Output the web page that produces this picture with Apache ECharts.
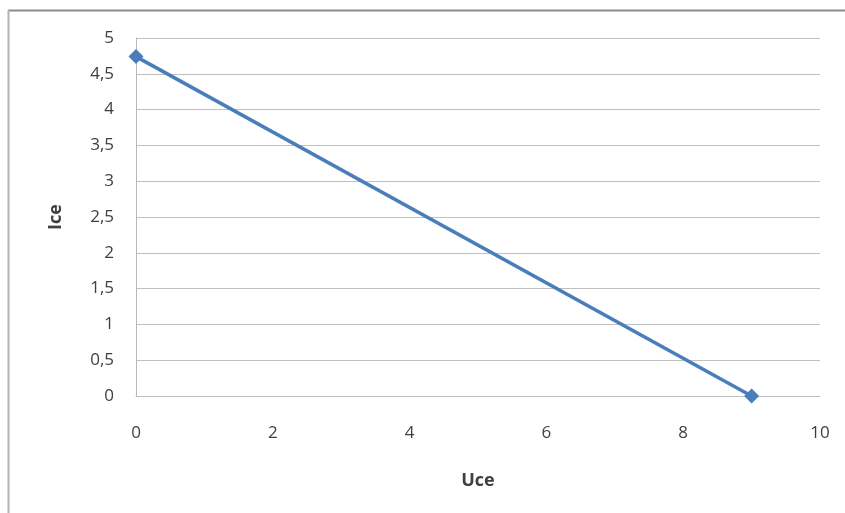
<!DOCTYPE html>
<html>
<head>
<meta charset="utf-8">
<script src="https://cdn.jsdelivr.net/npm/echarts@6/dist/echarts.min.js"></script>
<style>html,body{margin:0;padding:0;background:#fff}#c{width:845px;height:513px}</style>
</head>
<body>
<div id="c"></div>
<script>
var uce = [0, 9];
var ice = [4.74, 0];
var xName = 'Uce';
var yName = 'Ice';

var chart = echarts.init(document.getElementById('c'), null, {renderer: 'canvas'});
var fmt = function (v) { return String(v).replace('.', ','); };
chart.setOption({
  animation: false,
  backgroundColor: '#fff',
  grid: {left: 136, right: 25, top: 38, bottom: 117},
  xAxis: {
    type: 'value', min: 0, max: 10, interval: 2,
    name: xName, nameLocation: 'middle', nameGap: 76,
    nameTextStyle: {fontFamily: 'Open Sans', fontWeight: 'bold', fontSize: 18, color: '#404040'},
    axisLine: {show: true, lineStyle: {color: '#c0c0c0', width: 1}},
    axisTick: {show: false},
    splitLine: {show: false},
    axisLabel: {margin: 29, fontFamily: 'Open Sans', fontSize: 17, color: '#404040', formatter: fmt}
  },
  yAxis: {
    type: 'value', min: 0, max: 5, interval: 0.5,
    name: yName, nameLocation: 'middle', nameGap: 71, nameRotate: 90,
    nameTextStyle: {fontFamily: 'Open Sans', fontWeight: 'bold', fontSize: 18, color: '#404040'},
    axisLine: {show: true, lineStyle: {color: '#b8b8b8', width: 1}},
    axisTick: {show: false},
    splitLine: {show: true, lineStyle: {color: '#c0c0c0', width: 1}},
    axisLabel: {margin: 22, fontFamily: 'Open Sans', fontSize: 17, color: '#404040', formatter: fmt}
  },
  series: [{
    type: 'line',
    data: uce.map(function (x, i) { return [x, ice[i]]; }),
    symbol: 'diamond', symbolSize: 15,
    lineStyle: {color: '#4a7ebb', width: 3.5},
    itemStyle: {color: '#4a7ebb'}
  }],
  graphic: [
    {type: 'line', shape: {x1: 8, y1: 10.5, x2: 845, y2: 10.5}, style: {stroke: '#8c8c8c', lineWidth: 2}},
    {type: 'line', shape: {x1: 8.5, y1: 10, x2: 8.5, y2: 513}, style: {stroke: '#b4b4b4', lineWidth: 2}}
  ]
});
</script>
</body>
</html>
